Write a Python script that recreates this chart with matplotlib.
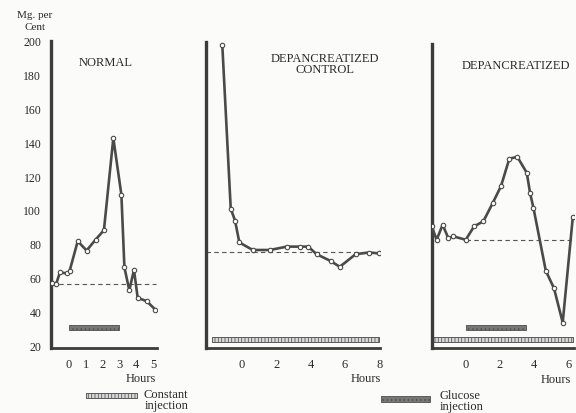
import numpy as np
import matplotlib
matplotlib.use("Agg")
import matplotlib.pyplot as plt

plt.rcParams['font.family'] = ['Liberation Serif', 'DejaVu Serif']
plt.rcParams['hatch.linewidth'] = 0.6

# ---------------- data ----------------
# Panel 1: NORMAL (NaN = break in the line)
normal_hours = [-1.03, -0.77, -0.54, -0.14, np.nan, 0.04, 0.52, 1.05, 1.59, 2.08, 2.64, 3.12, 3.30, 3.59, 3.87, 4.09, 4.63, 5.14]
normal_vals  = [56.5, 56, 63, 62.5, np.nan, 64, 81.5, 76, 82.5, 88, 142.5, 109, 66, 52.5, 64.5, 48, 46, 41]
normal_baseline = 56
normal_glucose = (0, 3)

# Panel 2: DEPANCREATIZED CONTROL
control_hours = [-1.13, -0.64, -0.39, -0.14, 0.64, 1.65, 2.62, 3.39, 3.87, 4.36, 5.17, 5.71, 6.63, 7.40, 7.98]
control_vals  = [198, 101, 94, 81, 76.5, 76.5, 78.5, 78.5, 78.5, 74, 70, 66.5, 74, 75, 74.5]
control_baseline = 75.5
control_constant = (-1.75, 8.0)

# Panel 3: DEPANCREATIZED
dep_hours = [-1.99, -1.70, -1.35, -1.02, -0.72, 0.0, 0.49, 1.03, 1.58, 2.06, 2.55, 3.02, 3.57, 3.76, 3.96, 4.68, 5.16, 5.67, 6.26]
dep_vals  = [91, 83, 92, 84, 85, 83, 91, 94, 105, 115, 131.5, 132.5, 123, 111, 102, 64.5, 54, 33.5, 96.5]
dep_baseline = 82.8
dep_glucose = (0, 3.5)
dep_constant = (-1.95, 6.25)

yticks = [20, 40, 60, 80, 100, 120, 140, 160, 180, 200]
xticks_normal = [0, 1, 2, 3, 4, 5]
xticks_control = [0, 2, 4, 6, 8]
xticks_dep = [0, 2, 4, 6]

# ---------------- styling ----------------
W, H = 576, 414
fig = plt.figure(figsize=(W / 100, H / 100), dpi=100)
bg = '#fbfbf9'
fig.patch.set_facecolor(bg)

LINE = '#4a4a4a'
AX = '#3c3c3c'
TXT = '#2a2a2a'
YLIM = (18.3, 200)


def px_axes(x0, x1, ytop=42, ybot=349):
    return fig.add_axes([x0 / W, 1 - ybot / H, (x1 - x0) / W, (ybot - ytop) / H])


def style(ax, xlim, xticks, show_y=False):
    ax.set_facecolor('none')
    ax.set_xlim(*xlim)
    ax.set_ylim(*YLIM)
    for s in ['top', 'right']:
        ax.spines[s].set_visible(False)
    ax.spines['left'].set_linewidth(2.4)
    ax.spines['bottom'].set_linewidth(2.0)
    ax.spines['left'].set_color(AX)
    ax.spines['bottom'].set_color(AX)
    ax.set_xticks(xticks)
    ax.set_xticklabels([str(t) for t in xticks], fontsize=9, color=TXT)
    ax.tick_params(axis='x', length=0, pad=7)
    if show_y:
        ax.set_yticks(yticks)
        ax.set_yticklabels([str(t) for t in yticks], fontsize=8.5, color=TXT)
        ax.tick_params(axis='y', length=0, pad=7)
    else:
        ax.set_yticks([])


def plot_series(ax, xs, ys):
    ax.plot(xs, ys, color=LINE, lw=1.9, marker='o', ms=3.2,
            markerfacecolor='white', markeredgecolor=LINE, markeredgewidth=0.8,
            solid_joinstyle='round', zorder=3)


def glucose_bar(ax, span, y=30.5, h=3.0):
    ax.broken_barh([(span[0], span[1] - span[0])], (y - h / 2, h),
                   facecolors='#777777', edgecolor='#505050', linewidth=0.6,
                   hatch='....', zorder=2)


def constant_bar(ax, span, y=23.3, h=3.0):
    ax.broken_barh([(span[0], span[1] - span[0])], (y - h / 2, h),
                   facecolors='#d8d8d8', edgecolor='#5a5a5a', linewidth=0.7,
                   hatch='|||||', zorder=2)


# Panel 1
ax1 = px_axes(51, 157)
style(ax1, (-1.07, 5.24), xticks_normal, show_y=True)
plot_series(ax1, normal_hours, normal_vals)
ax1.plot([-1.07, 5.2], [normal_baseline] * 2, ls=(0, (4, 3)), color='#555555', lw=0.8, zorder=1)
glucose_bar(ax1, normal_glucose)
ax1.text(0.52, 0.93, 'NORMAL', transform=ax1.transAxes, ha='center', va='center',
         fontsize=9, color=TXT)

# Panel 2
ax2 = px_axes(206, 380, ytop=43)
style(ax2, (-2.08, 8.05), xticks_control)
plot_series(ax2, control_hours, control_vals)
ax2.plot([-2.08, 8.05], [control_baseline] * 2, ls=(0, (4, 3)), color='#555555', lw=0.8, zorder=1)
constant_bar(ax2, control_constant)
ax2.text(0.685, 0.93, 'DEPANCREATIZED\nCONTROL', transform=ax2.transAxes, ha='center',
         va='center', fontsize=9, color=TXT, linespacing=0.95)

# Panel 3
ax3 = px_axes(431.7, 574, ytop=45)
style(ax3, (-1.99, 6.33), xticks_dep)
plot_series(ax3, dep_hours, dep_vals)
ax3.plot([0, 6.33], [dep_baseline] * 2, ls=(0, (4, 3)), color='#555555', lw=0.8, zorder=1)
glucose_bar(ax3, dep_glucose)
constant_bar(ax3, dep_constant)
ax3.text(0.59, 0.93, 'DEPANCREATIZED', transform=ax3.transAxes, ha='center',
         va='center', fontsize=9, color=TXT)

# Axis labels (figure pixel coordinates)
def ftext(x, y, s, **kw):
    fig.text(x / W, 1 - y / H, s, color=TXT, **kw)

ftext(35, 15, 'Mg. per', ha='center', va='center', fontsize=8)
ftext(35, 27, 'Cent', ha='center', va='center', fontsize=8)
ftext(141, 379, 'Hours', ha='center', va='center', fontsize=9)
ftext(366, 379, 'Hours', ha='center', va='center', fontsize=9)
ftext(556, 380, 'Hours', ha='center', va='center', fontsize=9)

# Legend swatches
lax = fig.add_axes([0, 0, 1, 1], facecolor='none')
lax.set_xlim(0, W)
lax.set_ylim(H, 0)
lax.axis('off')
lax.broken_barh([(86, 51)], (394.5, 5), facecolors='#d8d8d8', edgecolor='#5a5a5a',
                linewidth=0.7, hatch='|||||')
lax.broken_barh([(381, 49)], (397, 6), facecolors='#777777', edgecolor='#505050',
                linewidth=0.6, hatch='....')
ftext(143, 395, 'Constant', ha='left', va='center', fontsize=9)
ftext(145, 406, 'injection', ha='left', va='center', fontsize=9)
ftext(440, 396, 'Glucose', ha='left', va='center', fontsize=9)
ftext(440, 407, 'injection', ha='left', va='center', fontsize=9)

fig.savefig('out.png', dpi=100, facecolor=bg)
